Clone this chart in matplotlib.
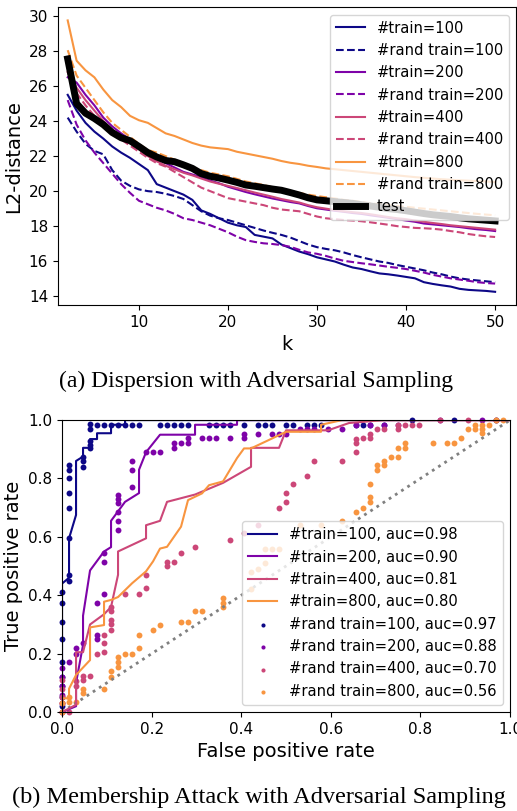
import numpy as np
import matplotlib
matplotlib.use("Agg")
import matplotlib.pyplot as plt

# ---------------- (a) dispersion data ----------------
k = np.arange(2, 51)

train_100 = [25.5, 24.6, 23.9, 23.4, 23.0, 22.55, 22.2, 21.9, 21.55, 21.2, 20.4, 20.2, 20.0, 19.8,
             19.5, 18.9, 18.7, 18.45, 18.2, 18.05, 17.95, 17.5, 17.4, 17.3, 16.95, 16.75, 16.55,
             16.4, 16.22, 16.1, 15.98, 15.8, 15.64, 15.55, 15.42, 15.3, 15.25, 15.18, 15.1, 15.02,
             14.8, 14.7, 14.62, 14.55, 14.42, 14.36, 14.33, 14.3, 14.25]
rand_100 = [24.2, 23.4, 22.7, 22.3, 22.1, 21.2, 20.6, 20.3, 20.1, 20.0, 19.95, 19.85, 19.72, 19.55,
            19.2, 18.85, 18.6, 18.45, 18.35, 18.2, 18.05, 17.9, 17.75, 17.62, 17.5, 17.35, 17.15,
            16.95, 16.8, 16.7, 16.62, 16.5, 16.35, 16.22, 16.1, 15.98, 15.9, 15.78, 15.68, 15.58,
            15.48, 15.35, 15.25, 15.12, 15.02, 14.95, 14.9, 14.85, 14.8]
train_200 = [26.5, 26.2, 25.5, 24.9, 24.2, 23.7, 23.3, 22.95, 22.6, 22.2, 21.85, 21.6, 21.35, 21.1,
             20.95, 20.8, 20.6, 20.45, 20.25, 20.1, 19.95, 19.82, 19.7, 19.58, 19.48, 19.38, 19.3,
             19.15, 19.02, 18.95, 18.88, 18.82, 18.75, 18.7, 18.62, 18.55, 18.48, 18.4, 18.32,
             18.25, 18.15, 18.1, 18.05, 18.0, 17.95, 17.88, 17.82, 17.78, 17.72]
rand_200 = [25.2, 23.8, 22.9, 22.2, 21.6, 21.0, 20.4, 19.9, 19.45, 19.25, 19.05, 18.9, 18.7, 18.45,
            18.35, 18.2, 18.05, 17.85, 17.65, 17.4, 17.2, 17.1, 17.02, 16.98, 16.92, 16.82, 16.65,
            16.5, 16.42, 16.3, 16.15, 16.02, 15.95, 15.88, 15.82, 15.75, 15.68, 15.62, 15.55,
            15.45, 15.35, 15.22, 15.12, 15.02, 14.95, 14.88, 14.8, 14.75, 14.72]
train_400 = [26.8, 25.9, 25.2, 24.6, 24.0, 23.5, 23.1, 22.75, 22.4, 22.0, 21.7, 21.45, 21.25, 21.05,
             20.9, 20.72, 20.55, 20.42, 20.3, 20.18, 20.05, 19.92, 19.8, 19.68, 19.55, 19.45, 19.35,
             19.2, 19.08, 19.0, 18.92, 18.85, 18.8, 18.75, 18.68, 18.6, 18.52, 18.45, 18.4, 18.32,
             18.25, 18.18, 18.12, 18.05, 18.0, 17.95, 17.9, 17.85, 17.8]
rand_400 = [26.8, 25.6, 24.9, 24.3, 23.8, 23.35, 22.95, 22.6, 22.25, 21.9, 21.6, 21.4, 21.1, 20.8,
            20.5, 20.2, 20.0, 19.8, 19.6, 19.5, 19.4, 19.3, 19.2, 19.05, 18.95, 18.9, 18.85, 18.7,
            18.55, 18.45, 18.4, 18.35, 18.32, 18.28, 18.22, 18.15, 18.08, 18.0, 17.95, 17.9, 17.88,
            17.85, 17.8, 17.72, 17.65, 17.55, 17.48, 17.42, 17.38]
train_800 = [29.75, 27.45, 26.9, 26.5, 25.8, 25.2, 24.8, 24.3, 24.05, 23.9, 23.6, 23.3, 23.15, 22.95,
             22.75, 22.6, 22.5, 22.45, 22.4, 22.25, 22.15, 22.05, 21.95, 21.85, 21.72, 21.62, 21.55,
             21.45, 21.38, 21.3, 21.25, 21.2, 21.15, 21.1, 21.05, 21.0, 20.95, 20.9, 20.85, 20.8,
             20.76, 20.72, 20.68, 20.65, 20.62, 20.6, 20.57, 20.55, 20.52]
rand_800 = [28.05, 26.6, 25.9, 25.2, 24.5, 23.9, 23.5, 23.1, 22.7, 22.35, 22.2, 22.0, 21.8, 21.55,
            21.35, 21.2, 21.05, 20.95, 20.85, 20.7, 20.55, 20.45, 20.35, 20.22, 20.1, 20.0, 19.9,
            19.8, 19.72, 19.65, 19.58, 19.5, 19.45, 19.38, 19.3, 19.25, 19.2, 19.15, 19.1, 19.05,
            19.0, 18.95, 18.9, 18.85, 18.8, 18.75, 18.7, 18.66, 18.62]
test = [27.55, 25.0, 24.45, 24.15, 23.8, 23.35, 23.05, 22.88, 22.55, 22.2, 21.95, 21.75, 21.68, 21.5,
        21.3, 21.0, 20.85, 20.75, 20.63, 20.5, 20.35, 20.28, 20.2, 20.12, 20.05, 19.92, 19.78, 19.62,
        19.5, 19.45, 19.4, 19.35, 19.3, 19.22, 19.15, 19.08, 19.0, 18.95, 18.88, 18.8, 18.72, 18.65,
        18.6, 18.55, 18.48, 18.42, 18.38, 18.34, 18.3]

sizes = [100, 200, 400, 800]
train_curves = [train_100, train_200, train_400, train_800]
rand_curves = [rand_100, rand_200, rand_400, rand_800]

# ---------------- (b) ROC data (fpr in 1/64 steps) ----------------
roc_fpr = [
    [0, 0, 1, 1, 2, 2, 3, 3, 4, 4, 5, 5, 7, 7, 9, 9, 64],
    [0, 2, 2, 3, 3, 4, 6, 7, 7, 9, 11, 11, 12, 13, 14, 19, 19, 25, 25, 64],
    [0, 2, 2, 3, 4, 6, 7, 8, 8, 12, 12, 14, 15, 19, 23, 27, 27, 31, 32, 38, 41, 46, 64],
    [0, 0, 1, 1, 2, 4, 4, 6, 6, 7, 8, 10, 12, 13, 14, 15, 17, 18, 20, 21, 23, 24, 25, 26, 27,
     30, 32, 37, 37, 40, 64],
]
roc_tpr = [
    [0, 0.44, 0.46, 0.595, 0.675, 0.86, 0.875, 0.905, 0.905, 0.935, 0.935, 0.955, 0.955, 0.984,
     0.984, 1, 1],
    [0, 0.02, 0.1, 0.23, 0.33, 0.485, 0.55, 0.565, 0.655, 0.72, 0.75, 0.83, 0.89, 0.92, 0.95,
     0.95, 0.984, 0.984, 1, 1],
    [0, 0.025, 0.205, 0.205, 0.3, 0.335, 0.36, 0.47, 0.55, 0.595, 0.64, 0.655, 0.72, 0.745,
     0.785, 0.84, 0.905, 0.905, 0.965, 0.965, 0.99, 1, 1],
    [0, 0.047, 0.047, 0.08, 0.127, 0.178, 0.29, 0.298, 0.378, 0.384, 0.394, 0.441, 0.482, 0.516,
     0.56, 0.566, 0.635, 0.726, 0.749, 0.777, 0.79, 0.83, 0.87, 0.903, 0.903, 0.937, 0.96, 0.96,
     0.984, 1, 1],
]
auc_train = [0.98, 0.90, 0.81, 0.80]

rand_fpr = [
    [0, 0, 0, 0, 0, 0, 0, 0, 0, 1, 1, 1, 1, 1, 1, 1, 1, 3, 3, 3, 4, 4, 4, 4, 4,
     5, 6, 7, 8, 9, 10, 11, 14, 15, 16, 17, 18, 21, 22, 23, 24, 26, 28, 29, 30, 32, 33, 35,
     36, 37, 42, 43, 44, 46, 50, 56, 62],
    [0, 0, 0, 0, 0, 0, 1, 2, 2, 3, 5, 5, 5, 6, 6, 6, 8, 8, 8, 8, 8, 8, 10, 10, 10,
     12, 13, 14, 16, 16, 17, 18, 18, 20, 21, 22, 24, 26, 26, 28, 30, 31, 32, 34, 35, 36, 38,
     40, 42, 44, 46, 48, 54, 60],
    [0, 0, 0, 0, 0, 1, 2, 2, 3, 3, 4, 5, 6, 6, 6, 7, 7, 7, 7, 7, 9, 11, 12, 12, 15,
     15, 16, 17, 19, 24, 26, 28, 31, 32, 32, 33, 35, 36, 40, 42, 42, 42, 43, 44, 44, 45, 46,
     48, 48, 49, 50, 51, 54, 58, 62],
    [0, 0, 1, 1, 2, 3, 3, 6, 7, 7, 8, 8, 8, 9, 10, 11, 11, 13, 14, 17, 18, 19, 20, 23, 23,
     23, 27, 27, 28, 29, 29, 30, 31, 34, 37, 40, 42, 43, 44, 44, 44, 45, 45, 46, 46, 47, 48,
     48, 49, 49, 53, 55, 56, 57, 58, 59, 59, 60, 60, 60, 61, 62, 63],
]
rand_tpr = [
    [0.02, 0.05, 0.09, 0.12, 0.17, 0.25, 0.31, 0.375, 0.41, 0.45, 0.47, 0.595, 0.70, 0.75, 0.80,
     0.83, 0.845, 0.84, 0.86, 0.875, 0.905, 0.915, 0.93, 0.97, 0.985,
     0.984, 0.984, 0.984, 0.984, 0.984, 0.984, 0.984, 0.984, 0.984, 0.984, 0.984, 0.984, 0.984,
     0.984, 0.984, 0.984, 0.984, 0.984, 0.984, 0.984, 0.984, 0.984, 0.984, 0.984, 0.984, 0.984,
     0.984, 0.984, 0.984, 1.0, 1.0, 1.0],
    [0.0, 0.03, 0.06, 0.09, 0.12, 0.15, 0.17, 0.20, 0.22, 0.235, 0.25, 0.265, 0.375, 0.405, 0.515,
     0.545, 0.625, 0.655, 0.685, 0.715, 0.73, 0.745, 0.77, 0.83, 0.86,
     0.89, 0.89, 0.89, 0.905, 0.92, 0.92, 0.92, 0.937, 0.937, 0.937, 0.937, 0.937, 0.937, 0.953,
     0.953, 0.953, 0.953, 0.953, 0.97, 0.97, 0.97, 0.97, 0.97, 0.984, 0.984, 0.984, 0.984,
     1.0, 1.0],
    [0.0, 0.03, 0.05, 0.08, 0.11, 0.0, 0.09, 0.105, 0.11, 0.125, 0.125, 0.20, 0.205, 0.235, 0.265,
     0.28, 0.30, 0.315, 0.345, 0.36, 0.405, 0.405, 0.425, 0.47, 0.50,
     0.515, 0.515, 0.545, 0.565, 0.59, 0.615, 0.64, 0.70, 0.72, 0.75, 0.78, 0.81, 0.86, 0.86,
     0.89, 0.92, 0.935, 0.937, 0.937, 0.954, 0.97, 0.97, 0.97, 0.984, 0.984, 0.984, 0.984,
     1.0, 1.0, 1.0],
    [0.0, 0.03, 0.035, 0.05, 0.033, 0.065, 0.08, 0.08, 0.12, 0.14, 0.155, 0.17, 0.19, 0.20, 0.20,
     0.22, 0.265, 0.28, 0.297, 0.31, 0.31, 0.345, 0.345, 0.36, 0.375,
     0.39, 0.42, 0.48, 0.49, 0.51, 0.56, 0.56, 0.56, 0.64, 0.64, 0.655, 0.685, 0.70, 0.72, 0.735,
     0.78, 0.83, 0.845, 0.845, 0.86, 0.875, 0.875, 0.905, 0.905, 0.92, 0.92, 0.92, 0.92, 0.937,
     0.97, 0.97, 0.984, 0.97, 0.984, 0.955, 0.984, 1.0, 1.0],
]
auc_rand = [0.97, 0.88, 0.70, 0.56]

colors = [plt.cm.plasma(v) for v in (0.0, 0.25, 0.5, 0.75)]

fig = plt.figure(figsize=(5.17, 8.11), dpi=100)

# ---- top panel ----
ax1 = fig.add_axes([0.112, 0.624, 0.887, 0.367])
for n, c, tr, rd in zip(sizes, colors, train_curves, rand_curves):
    ax1.plot(k, tr, color=c, lw=1.5, label=f"#train={n}")
    ax1.plot(k, rd, color=c, lw=1.5, ls="--", label=f"#rand train={n}")
ax1.plot(k, test, color="black", lw=5, label="test")
ax1.set_xlim(0.9, 52.4)
ax1.set_ylim(13.5, 30.5)
ax1.set_xticks([10, 20, 30, 40, 50])
ax1.set_yticks(np.arange(14, 31, 2))
ax1.tick_params(labelsize=11)
ax1.set_xlabel("k", fontsize=14)
ax1.set_ylabel("L2-distance", fontsize=14)
ax1.legend(loc="upper right", fontsize=10.6)

# ---- bottom panel ----
ax2 = fig.add_axes([0.12, 0.122, 0.8665, 0.36])
ax2.plot([0, 1], [0, 1], color="gray", ls=":", lw=2)
for n, c, fx, ty, a in zip(sizes, colors, roc_fpr, roc_tpr, auc_train):
    ax2.plot(np.array(fx) / 64, ty, color=c, lw=1.5, label=f"#train={n}, auc={a:.2f}")
for n, c, fx, ty, a in zip(sizes, colors, rand_fpr, rand_tpr, auc_rand):
    ax2.scatter(np.array(fx) / 64, ty, color=c, s=18, lw=0, clip_on=False,
                label=f"#rand train={n}, auc={a:.2f}")
ax2.set_xlim(0, 1)
ax2.set_ylim(0, 1)
ax2.set_xticks(np.arange(0, 1.01, 0.2))
ax2.set_yticks(np.arange(0, 1.01, 0.2))
ax2.tick_params(labelsize=11)
ax2.set_xlabel("False positive rate", fontsize=14)
ax2.set_ylabel("True positive rate", fontsize=14)
ax2.legend(loc="lower right", fontsize=10.6, scatterpoints=1, markerscale=0.7)

fig.text(0.495, 1 - 381 / 811, "(a) Dispersion with Adversarial Sampling",
         ha="center", va="center", fontsize=17, family="Liberation Serif")
fig.text(0.5, 1 - 797 / 811, "(b) Membership Attack with Adversarial Sampling",
         ha="center", va="center", fontsize=17.5, family="Liberation Serif")

fig.savefig("out.png", dpi=100)
